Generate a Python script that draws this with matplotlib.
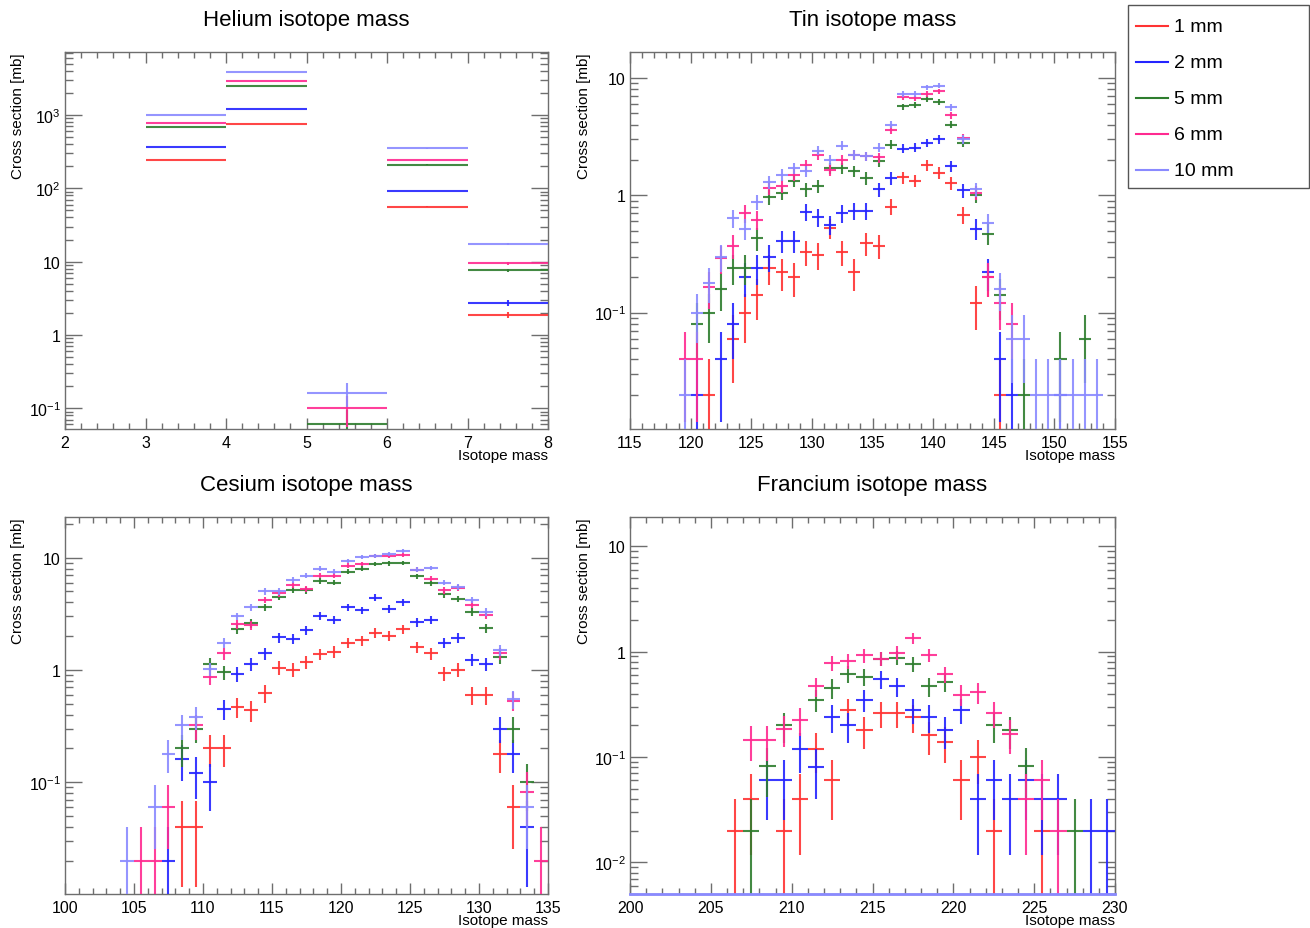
import numpy as np
import matplotlib
matplotlib.use("Agg")
import matplotlib.pyplot as plt
from matplotlib.ticker import MultipleLocator, LogLocator, FuncFormatter, NullFormatter
from matplotlib.lines import Line2D
from matplotlib.patches import Rectangle

plt.rcParams['font.family'] = ['Liberation Sans', 'DejaVu Sans']
plt.rcParams['mathtext.fontset'] = 'custom'
plt.rcParams['mathtext.rm'] = 'Liberation Sans'
plt.rcParams['mathtext.it'] = 'Liberation Sans'

# ---------------- data ----------------
series_labels = ["1 mm", "2 mm", "5 mm", "6 mm", "10 mm"]
series_colors = ["#ff3333", "#2424ff", "#2e7d2e", "#ff2a90", "#8a8aff"]
count_unit = 0.02  # mb per event (statistical errors)

# Helium: bins [m, m+1]
he_mass = [2, 3, 4, 5, 6, 7]
he_1mm = [0, 243, 753, 0, 56, 1.89]
he_2mm = [0, 366, 1207, 0, 92, 2.73]
he_5mm = [0, 686, 2460, 0.061, 210, 7.6]
he_6mm = [0, 785, 2910, 0.10, 243, 9.5]
he_10mm = [0, 1000, 3900, 0.162, 351, 17.6]

# Tin
sn_mass = list(range(119, 154))
sn_1mm = [0, 0, 0.02, 0, 0.06, 0.10, 0.14, 0.24, 0.22, 0.20, 0.33, 0.31, 0.53, 0.33, 0.22, 0.39, 0.37,
          0.80, 1.42, 1.33, 1.80, 1.55, 1.27, 0.68, 0.12, 0.20, 0.02, 0, 0, 0, 0, 0, 0, 0, 0]
sn_2mm = [0, 0.02, 0, 0.04, 0.08, 0.20, 0.24, 0.30, 0.41, 0.41, 0.72, 0.65, 0.56, 0.70, 0.74, 0.74, 1.12,
          1.40, 2.50, 2.55, 2.80, 3.00, 1.78, 1.10, 0.52, 0.22, 0.04, 0.02, 0, 0, 0, 0.02, 0, 0, 0]
sn_5mm = [0, 0.08, 0.10, 0.16, 0.24, 0.24, 0.43, 0.97, 1.05, 1.33, 1.12, 1.20, 1.70, 1.70, 1.60, 1.40, 1.95,
          2.70, 5.70, 5.90, 6.60, 6.20, 4.00, 2.80, 1.00, 0.47, 0.14, 0, 0.02, 0, 0, 0.04, 0, 0.06, 0]
sn_6mm = [0.04, 0.04, 0.165, 0.29, 0.37, 0.70, 0.62, 1.15, 1.20, 1.50, 1.80, 2.20, 1.65, 2.00, 2.20, 2.15, 2.10,
          3.60, 6.90, 6.70, 7.30, 7.70, 4.80, 3.10, 1.05, 0.20, 0.12, 0.08, 0, 0, 0, 0, 0, 0, 0]
sn_10mm = [0.02, 0.10, 0.18, 0.30, 0.64, 0.52, 0.88, 1.30, 1.50, 1.70, 1.60, 2.40, 2.00, 2.65, 2.20, 2.15, 2.55,
           4.00, 7.30, 7.30, 8.30, 8.60, 5.60, 3.00, 1.12, 0.58, 0.16, 0.06, 0.06, 0.02, 0.02, 0.02, 0.02, 0.02, 0.02]

# Cesium
cs_mass = list(range(104, 135))
cs_1mm = [0, 0, 0, 0, 0.04, 0.04, 0.20, 0.20, 0.47, 0.44, 0.62, 1.05, 1.00, 1.18, 1.38, 1.45, 1.75, 1.83,
          2.15, 2.00, 2.30, 1.60, 1.40, 0.93, 1.00, 0.60, 0.60, 0.18, 0.06, 0, 0]
cs_2mm = [0, 0, 0, 0.02, 0.16, 0.12, 0.10, 0.45, 0.92, 1.12, 1.40, 1.95, 1.90, 2.25, 3.05, 2.80, 3.60, 3.40,
          4.40, 3.50, 4.00, 2.65, 2.80, 1.75, 1.92, 1.23, 1.12, 0.30, 0.18, 0.04, 0]
cs_5mm = [0, 0, 0, 0, 0.20, 0.30, 1.12, 0.95, 2.30, 2.60, 3.60, 4.50, 5.20, 5.10, 6.20, 6.00, 7.50, 8.00,
          8.80, 8.90, 9.00, 6.80, 5.90, 4.70, 4.30, 3.30, 2.35, 1.30, 0.30, 0.10, 0]
cs_6mm = [0, 0.02, 0.02, 0.06, 0, 0.32, 0.86, 1.40, 2.55, 2.50, 4.20, 4.80, 5.70, 5.30, 6.90, 6.90, 8.50, 8.80,
          10.3, 10.4, 10.6, 7.80, 6.50, 5.10, 5.40, 3.80, 3.10, 1.40, 0.53, 0.082, 0.02]
cs_10mm = [0.02, 0, 0.06, 0.18, 0.32, 0.38, 1.02, 1.75, 3.00, 3.60, 5.00, 5.00, 6.30, 6.90, 8.00, 7.50, 9.30, 10.2,
           10.3, 10.7, 11.5, 7.80, 8.10, 6.00, 5.50, 4.20, 3.30, 1.50, 0.55, 0.06, 0]

# Francium
fr_mass = list(range(200, 230))
fr_1mm = [0, 0, 0, 0, 0, 0, 0.02, 0.04, 0, 0.02, 0.04, 0.12, 0.06, 0.28, 0.18, 0.26, 0.26, 0.24, 0.16, 0.14,
          0.06, 0.10, 0.02, 0, 0, 0.02, 0, 0, 0, 0]
fr_2mm = [0, 0, 0, 0, 0, 0, 0, 0, 0.06, 0.06, 0.12, 0.08, 0.24, 0.20, 0.35, 0.55, 0.47, 0.28, 0.24, 0.18,
          0.28, 0.04, 0.06, 0.04, 0.06, 0.04, 0.04, 0, 0.02, 0.02]
fr_5mm = [0, 0, 0, 0, 0, 0, 0, 0.02, 0.082, 0.20, 0, 0.35, 0.45, 0.62, 0.58, 0.86, 0.88, 0.76, 0.47, 0.52,
          0, 0, 0.20, 0.18, 0.082, 0, 0, 0.02, 0, 0]
fr_6mm = [0, 0, 0, 0, 0, 0, 0, 0.145, 0.145, 0.185, 0.225, 0.47, 0.78, 0.82, 0.92, 0.86, 0.98, 1.35, 0.93, 0.61,
          0.39, 0.41, 0.26, 0.165, 0.04, 0.06, 0.02, 0, 0, 0]
fr_10mm = [0] * 30

panels = [
    dict(title="Helium isotope mass", mass=he_mass, data=[he_1mm, he_2mm, he_5mm, he_6mm, he_10mm],
         xlim=(2, 8), ylim=(0.052, 7250), xmaj=1, xmin=0.2,
         rect=(65, 53, 548, 430)),
    dict(title="Tin isotope mass", mass=sn_mass, data=[sn_1mm, sn_2mm, sn_5mm, sn_6mm, sn_10mm],
         xlim=(115, 155), ylim=(0.0102, 16.6), xmaj=5, xmin=1,
         rect=(630, 53, 1115, 430)),
    dict(title="Cesium isotope mass", mass=cs_mass, data=[cs_1mm, cs_2mm, cs_5mm, cs_6mm, cs_10mm],
         xlim=(100, 135), ylim=(0.0101, 23), xmaj=5, xmin=1,
         rect=(65, 518, 548, 895)),
    dict(title="Francium isotope mass", mass=fr_mass, data=[fr_1mm, fr_2mm, fr_5mm, fr_6mm, fr_10mm],
         xlim=(200, 230), ylim=(0.005, 19), xmaj=5, xmin=1,
         rect=(630, 518, 1115, 895)),
]

W, H = 1310, 929
fig = plt.figure(figsize=(W / 100, H / 100), dpi=100)
frame_col = "#6e6e6e"


def log_fmt(v, pos):
    e = int(round(np.log10(v)))
    if e == 0:
        return "1"
    if e == 1:
        return "10"
    return r"$10^{%d}$" % e


for p in panels:
    l, t, r, b = p["rect"]
    ax = fig.add_axes([l / W, 1 - b / H, (r - l) / W, (b - t) / H])
    ax.set_yscale("log")
    ax.set_xlim(*p["xlim"])
    ax.set_ylim(*p["ylim"])
    ymin = p["ylim"][0]
    mass = np.array(p["mass"], dtype=float)
    for vals, col in zip(p["data"], series_colors):
        v = np.array(vals, dtype=float)
        if np.all(v == 0):
            # empty histogram: ROOT draws it flat along the bottom of the frame
            ax.plot(p["xlim"], [ymin, ymin], color=col, lw=2.0, zorder=6, clip_on=False)
            continue
        sel = v > 0
        x = mass[sel] + 0.5
        y = v[sel]
        err = np.sqrt(y * count_unit)
        lo = np.minimum(err, y - ymin * 0.5)
        ax.errorbar(x, y, xerr=0.5, yerr=[lo, err], fmt="none", ecolor=col,
                    elinewidth=1.5, capsize=0, alpha=0.9, zorder=3)
    # ticks
    ax.xaxis.set_major_locator(MultipleLocator(p["xmaj"]))
    ax.xaxis.set_minor_locator(MultipleLocator(p["xmin"]))
    ax.yaxis.set_major_locator(LogLocator(base=10, numticks=20))
    ax.yaxis.set_minor_locator(LogLocator(base=10, subs=np.arange(2, 10), numticks=20))
    ax.yaxis.set_major_formatter(FuncFormatter(log_fmt))
    ax.yaxis.set_minor_formatter(NullFormatter())
    ax.tick_params(axis="both", which="both", direction="in", top=True, right=True,
                   color=frame_col, labelsize=11.5, labelcolor="black")
    ax.tick_params(axis="x", which="major", length=8, width=1, pad=4)
    ax.tick_params(axis="x", which="minor", length=4, width=1)
    ax.tick_params(axis="y", which="major", length=12, width=1, pad=3)
    ax.tick_params(axis="y", which="minor", length=6, width=1)
    for s in ax.spines.values():
        s.set_color(frame_col)
        s.set_linewidth(1.0)
    hpx = b - t
    wpx = r - l
    ax.text(1.0, -(456 - 430) / hpx, "Isotope mass", transform=ax.transAxes,
            ha="right", va="center", fontsize=11)
    ylab_x = 18 if l < 300 else 584
    ax.text((ylab_x - l) / wpx, 1.0, "Cross section [mb]", transform=ax.transAxes, rotation=90,
            ha="center", va="top", fontsize=11)
    title_y = 20 if t < 300 else 486
    ax.text(0.5, 1 + (t - title_y) / hpx, p["title"], transform=ax.transAxes,
            ha="center", va="center", fontsize=16)

# legend (figure coordinates)
lx0, ly0, lx1, ly1 = 1128, 6, 1309, 189
fig.patches.append(Rectangle((lx0 / W, 1 - ly1 / H), (lx1 - lx0) / W, (ly1 - ly0) / H,
                             transform=fig.transFigure, fill=False, edgecolor="#555555", lw=1.0))
rows = [27, 63, 99, 135, 171]
for lab, col, ry in zip(series_labels, series_colors, rows):
    fig.lines.append(Line2D([1136 / W, 1168 / W], [1 - ry / H, 1 - ry / H], transform=fig.transFigure,
                            color=col, lw=1.5))
    fig.text(1174 / W, 1 - ry / H, lab, ha="left", va="center", fontsize=14)

fig.savefig("out.png", dpi=100)
